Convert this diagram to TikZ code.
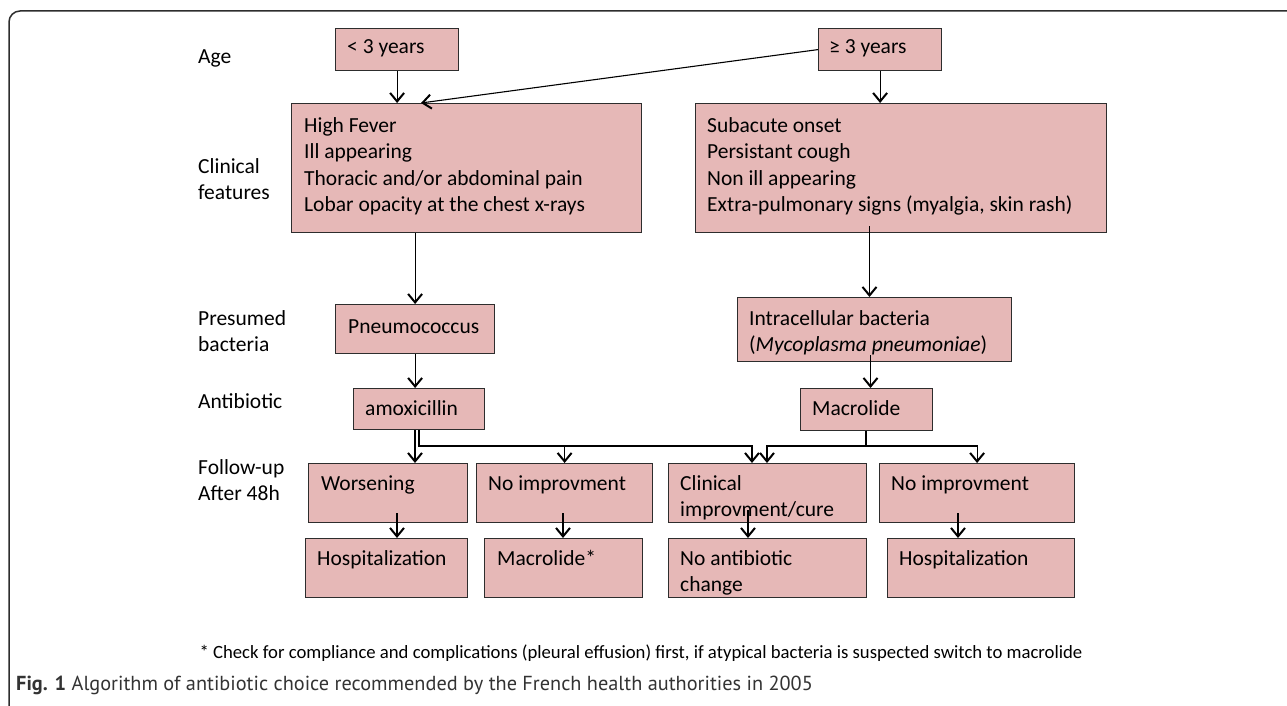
\documentclass[tikz,border=0pt]{standalone}
\usepackage{fontspec}
\setmainfont{Carlito}
\newfontfamily\capfont{PT Sans}
\usetikzlibrary{arrows.meta,calc}
\definecolor{boxfill}{RGB}{230,184,183}
\definecolor{edge}{RGB}{45,45,45}
\begin{document}
\begin{tikzpicture}[x=1pt,y=-1pt,
  box/.style={draw=edge, line width=1.2pt, fill=boxfill, anchor=north west, inner sep=0pt},
  txt/.style={anchor=base west, inner sep=0pt, font=\fontsize{21.5}{26.6}\selectfont},
  arr/.style={draw=black, line width=1.1pt, -{Straight Barb[length=8.5pt,width=14pt,line width=2pt]}},
  ln/.style={draw=black, line width=1.1pt}]
\useasboundingbox (0,0) rectangle (1287,706);
% frame
\draw[edge, line width=1.5pt, rounded corners=11pt] (40,716) -- (9,716) -- (9,11) -- (1300,11);
% row labels
\node[txt] (lAge) at (198,64) {Age};
\node[txt] (lClin) at (198,173) {\vtop{\hbox{Clinical}\hbox{features}}};
\node[txt] (lBact) at (198,325) {\vtop{\hbox{Presumed}\hbox{bacteria}}};
\node[txt] (lAnti) at (198,408) {Antibiotic};
\node[txt] (lFoll) at (198,474) {\vtop{\hbox{Follow-up}\hbox{After 48h}}};
% boxes
\node[box, minimum width=123pt, minimum height=42pt] (lt3) at (335,28) {};
\node[box, minimum width=123pt, minimum height=42pt] (ge3) at (818,28) {};
\node[box, minimum width=350pt, minimum height=129pt] (clin1) at (291,103) {};
\node[box, minimum width=411pt, minimum height=129pt] (clin2) at (695,103) {};
\node[box, minimum width=159pt, minimum height=49pt] (pneumo) at (335,304) {};
\node[box, minimum width=274pt, minimum height=64pt] (intra) at (737,297) {};
\node[box, minimum width=131pt, minimum height=41pt] (amox) at (353,388) {};
\node[box, minimum width=132pt, minimum height=42pt] (macro) at (800,388) {};
\node[box, minimum width=159pt, minimum height=59pt] (worse) at (308,463) {};
\node[box, minimum width=176pt, minimum height=59pt] (noimp1) at (476,463) {};
\node[box, minimum width=198pt, minimum height=59pt] (clinical) at (668,463) {};
\node[box, minimum width=195pt, minimum height=59pt] (noimp2) at (879,463) {};
\node[box, minimum width=162pt, minimum height=59pt] (hosp1) at (305,538) {};
\node[box, minimum width=158pt, minimum height=59pt] (macstar) at (484,538) {};
\node[box, minimum width=198pt, minimum height=59pt] (noanti) at (668,538) {};
\node[box, minimum width=187pt, minimum height=59pt] (hosp2) at (887,538) {};
% box texts
\node[txt] (tlt3) at (347,54) {< 3 years};
\node[txt] (tge3) at (829,54) {≥ 3 years};
\node[txt] (tclin1) at (304,132) {\vtop{\hbox{High Fever}\hbox{Ill appearing}\hbox{Thoracic and/or abdominal pain}\hbox{Lobar opacity at the chest x-rays}}};
\node[txt] (tclin2) at (707,132) {\vtop{\hbox{Subacute onset}\hbox{Persistant cough}\hbox{Non ill appearing}\hbox{Extra-pulmonary signs (myalgia, skin rash)}}};
\node[txt] (tpneumo) at (348,333) {Pneumococcus};
\node[txt] (tintra) at (749,325) {\vtop{\hbox{Intracellular bacteria}\hbox{(\textit{Mycoplasma pneumoniae})}}};
\node[txt] (tamox) at (365,415) {amoxicillin};
\node[txt] (tmacro) at (812,415) {Macrolide};
\node[txt] (tworse) at (321,490) {Worsening};
\node[txt] (tnoimp1) at (488,490) {No improvment};
\node[txt] (tclinical) at (680,490) {\vtop{\hbox{Clinical}\hbox{improvment/cure}}};
\node[txt] (tnoimp2) at (891,490) {No improvment};
\node[txt] (thosp1) at (317,565) {Hospitalization};
\node[txt] (tmacstar) at (497,565) {Macrolide*};
\node[txt] (tnoanti) at (680,565) {\vtop{\hbox{No antibiotic}\hbox{change}}};
\node[txt] (thosp2) at (899,565) {Hospitalization};
% connectors
\draw[arr] (lt3.south) -- (lt3.south |- clin1.north);
\draw[arr] (ge3.west) -- ($(clin1.north west)+(130,0)$);
\draw[arr] (ge3.south) -- (ge3.south |- clin2.north);
\draw[arr] (pneumo.north |- clin1.south) -- (pneumo.north);
\coordinate (c2o) at (869.5,226);
\draw[arr] (c2o) -- (c2o |- intra.north);
\draw[arr] (pneumo.south) -- (pneumo.south |- amox.north);
\coordinate (io) at (870.5,355);
\draw[arr] (io) -- (io |- macro.north);
\coordinate (bus) at (0,446);
\coordinate (amoxA) at ($(amox.south west)+(62,0)$);
\coordinate (amoxB) at ($(amox.south west)+(66,0)$);
\coordinate (macB) at ($(macro.south west)+(66,0)$);
\coordinate (clinA) at ($(clinical.north west)+(84,0)$);
\coordinate (clinB) at ($(clinical.north west)+(99,0)$);
\draw[arr] (amoxA) -- (amoxA |- worse.north);
\draw[arr] (amoxB) |- (clinA |- bus) -- (clinA);
\draw[arr] (noimp1.north |- bus) -- (noimp1.north);
\draw[arr] (macB) |- (clinB |- bus) -- (clinB);
\draw[arr] (macB) |- (noimp2.north |- bus) -- (noimp2.north);
\coordinate (w1) at (397,513);
\coordinate (w2) at (563,513);
\coordinate (w3) at (748,510);
\coordinate (w4) at (958,513);
\draw[arr] (w1) -- (w1 |- hosp1.north);
\draw[arr] (w2) -- (w2 |- macstar.north);
\draw[arr] (w3) -- (w3 |- noanti.north);
\draw[arr] (w4) -- (w4 |- hosp2.north);
% footnote and caption
\node[anchor=base, inner sep=0pt, font=\fontsize{18.7}{22}\selectfont] (fn) at (641,658) {* Check for compliance and complications (pleural effusion) first, if atypical bacteria is suspected switch to macrolide};
\node[anchor=base west, inner sep=0pt, font=\capfont\fontsize{20.3}{24}\selectfont, text=black!80] (cap) at (16,690) {\textbf{Fig. 1} Algorithm of antibiotic choice recommended by the French health authorities in 2005};
\end{tikzpicture}
\end{document}
